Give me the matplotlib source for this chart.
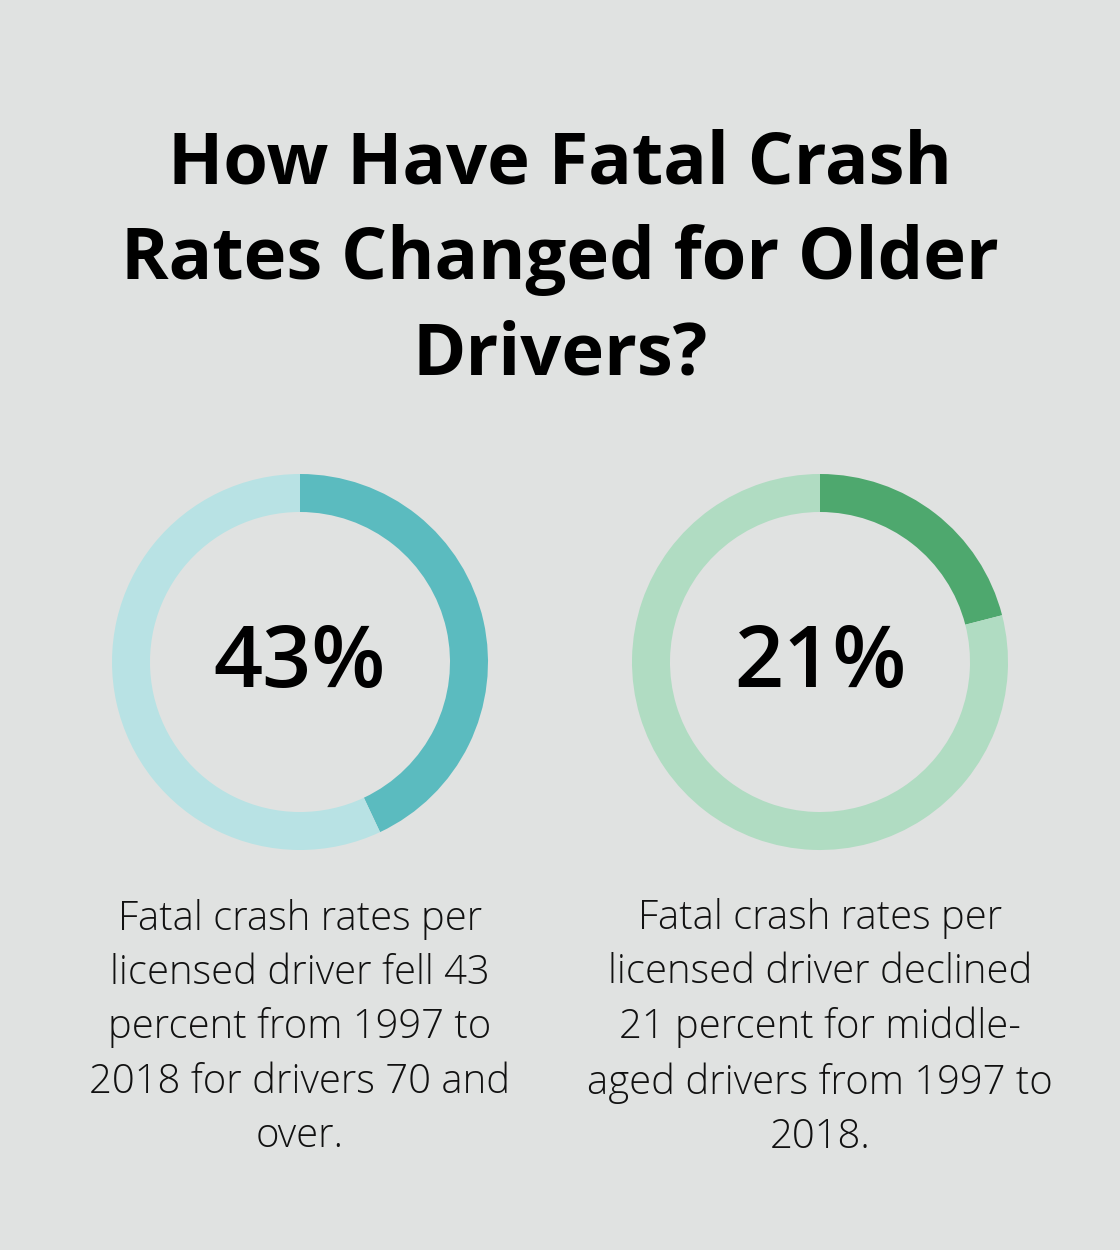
import matplotlib
matplotlib.use("Agg")
import matplotlib.pyplot as plt

# data
values = [43, 21]
labels = ["43%", "21%"]
captions = [
    "Fatal crash rates per\nlicensed driver fell 43\npercent from 1997 to\n2018 for drivers 70 and\nover.",
    "Fatal crash rates per\nlicensed driver declined\n21 percent for middle-\naged drivers from 1997 to\n2018.",
]
dark = ["#5BBBBF", "#4EA86E"]
light = ["#B8E2E4", "#B0DCC2"]
title = "How Have Fatal Crash\nRates Changed for Older\nDrivers?"

bg = "#E0E2E1"
W, H = 1120, 1250
fig = plt.figure(figsize=(W / 100, H / 100), dpi=100, facecolor=bg)
ax = fig.add_axes([0, 0, 1, 1])
ax.set_xlim(0, W)
ax.set_ylim(0, H)
ax.set_aspect("equal")
ax.axis("off")

ax.text(W / 2, H - 260, title, ha="center", va="center", ma="center",
        fontsize=52, fontweight="bold", family="Open Sans",
        linespacing=1.42, color="#000000")

centers_x = [300, 820]
for i, v in enumerate(values):
    cx, cy = centers_x[i], H - 662
    ax.pie([v, 100 - v], colors=[dark[i], light[i]], startangle=90,
           counterclock=False, radius=188, center=(cx, cy),
           wedgeprops=dict(width=38, linewidth=0), frame=True)
    ax.text(cx, cy - 3, labels[i], ha="center", va="center",
            fontsize=62, family="Open Sans", fontweight="semibold", color="#000000")
    ax.text(cx, H - 1028, captions[i], ha="center", va="center", ma="center",
            fontsize=28.8, family="Open Sans", fontweight="light",
            linespacing=1.43, color="#111111")

ax.set_xlim(0, W)
ax.set_ylim(0, H)
ax.axis("off")
fig.savefig("out.png", dpi=100, facecolor=bg)
